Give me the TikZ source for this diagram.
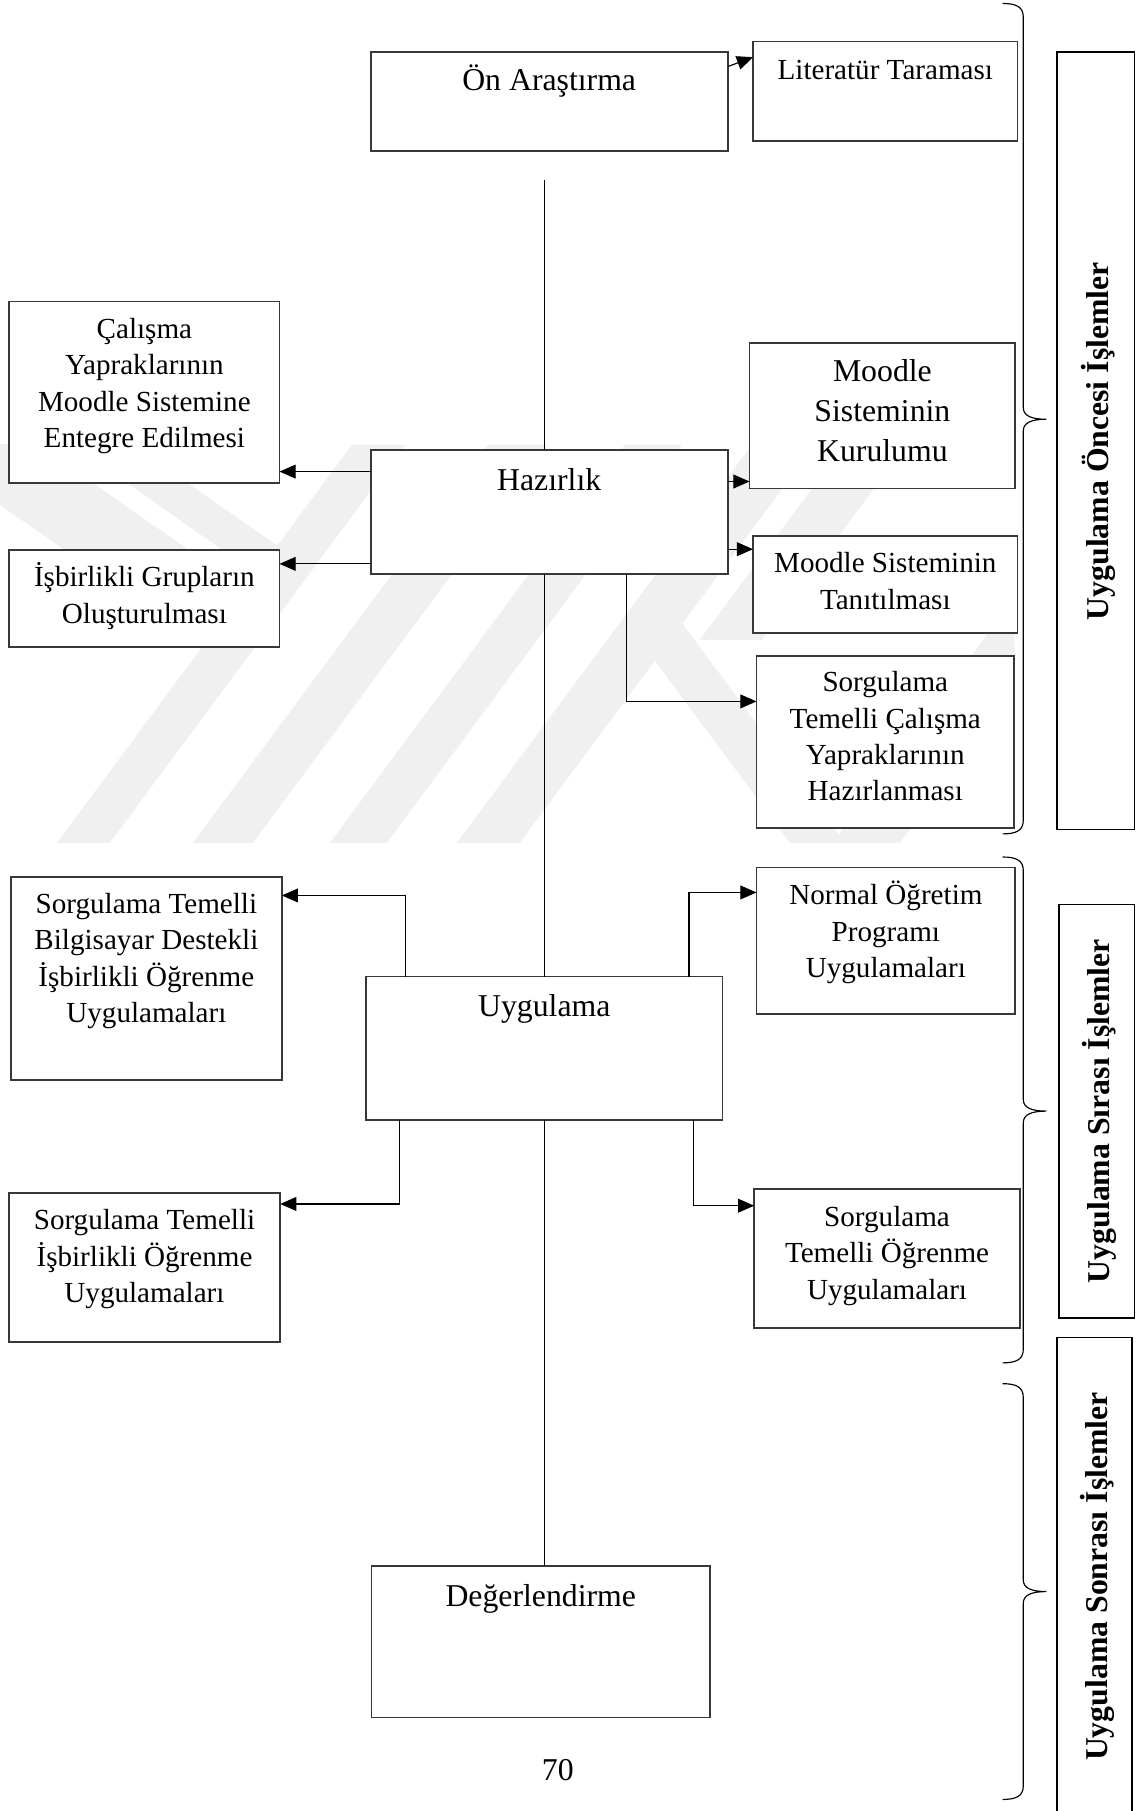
\documentclass[tikz,border=0pt]{standalone}
\usepackage{fontspec}
\setmainfont{Liberation Serif}
\usetikzlibrary{arrows.meta,calc}

% fixed ascent for the first text line of a box
\newcommand{\firstln}{\rule{0pt}{0.9em}}

% right-facing curly brace: top end, tip, bottom end
\newcommand{\phasebrace}[3]{%
  \draw[brace] (868,#1) .. controls (880,#1) and (886,#1+3) .. (886,#1+12)
    -- (886,#2-10) .. controls (886,#2-3) and (893,#2) .. (906,#2)
    .. controls (893,#2) and (886,#2+3) .. (886,#2+10)
    -- (886,#3-12) .. controls (886,#3-3) and (880,#3) .. (868,#3);}

\begin{document}
\begin{tikzpicture}[x=1pt,y=-1pt,
  box/.style={draw=black!78, line width=1.5pt, fill=white, inner sep=0pt, outer sep=0pt, anchor=north west},
  phasebox/.style={draw=black, line width=1.2pt, fill=white, inner sep=0pt, outer sep=0pt, anchor=north west},
  tx/.style={inner sep=0pt, align=center, anchor=north},
  small/.style={tx, font=\fontsize{25.2}{31.5}\selectfont},
  large/.style={tx, font=\fontsize{27.5}{34.6}\selectfont},
  phase/.style={font=\fontsize{27.5}{33}\selectfont\bfseries, rotate=90, anchor=base, inner sep=0pt},
  link/.style={line width=1pt, draw=black},
  arr/.style={link, -{Triangle[length=14pt, width=12pt]}},
  brace/.style={line width=1pt, draw=black},
  wm/.style={fill=black!6, draw=none}]

\useasboundingbox (0,0) rectangle (985,1568);
\clip (0,0) rectangle (985,1568);

% faint background emblem (diagonal bands)
\begin{scope}[scale=0.86558]
  \clip (0,445) rectangle (1015,843);
  \fill[wm] (57,843) -- (110,843) -- (405,445) -- (352,445) -- cycle;
  \fill[wm] (193,843) -- (253,843) -- (548,445) -- (488,445) -- cycle;
  \fill[wm] (330,843) -- (387,843) -- (682,445) -- (625,445) -- cycle;
  \fill[wm] (457,843) -- (520,843) -- (815,445) -- (752,445) -- cycle;
  \fill[wm] (-60,376) -- (280,614) -- (237,671) -- (-60,463) -- cycle;
  \fill[wm] (-60,310) -- (312,570) -- (291,598) -- (-60,352) -- cycle;
  \fill[wm] (790,843) -- (845,843) -- (682.5,623.7) -- (655,660.8) -- cycle;
  \fill[wm] (700,640) -- (762,640) -- (906.5,445) -- (844.5,445) -- cycle;
  \fill[wm] (833,843) -- (900,843) -- (1100,573) -- (1033,573) -- cycle;
\end{scope}

% boxes
\node[box, minimum width=309pt, minimum height=86pt]    (on)  at (321,45) {};
\node[box, minimum width=229pt, minimum height=86pt]    (lit) at (652,36) {};
\node[box, minimum width=234pt, minimum height=157pt]   (cal) at (8,261) {};
\node[box, minimum width=230pt, minimum height=126pt]   (kur) at (649,297) {};
\node[box, minimum width=309pt, minimum height=107.5pt] (hz)  at (321,389.5) {};
\node[box, minimum width=234pt, minimum height=84pt]    (isb) at (8,476) {};
\node[box, minimum width=229pt, minimum height=84pt]    (tan) at (652,464) {};
\node[box, minimum width=223pt, minimum height=149pt]   (sor) at (655,568) {};
\node[box, minimum width=234.5pt, minimum height=175.5pt] (bil) at (9.5,759.5) {};
\node[box, minimum width=224pt, minimum height=127pt]   (nor) at (655,751) {};
\node[box, minimum width=308.5pt, minimum height=124.5pt] (uyg) at (317,845.5) {};
\node[box, minimum width=235pt, minimum height=129pt]   (sti) at (7.6,1033) {};
\node[box, minimum width=230pt, minimum height=120.5pt] (sto) at (653,1029.5) {};
\node[box, minimum width=293pt, minimum height=131pt]   (deg) at (321.7,1356) {};

% phase boxes
\node[phasebox, minimum width=67pt, minimum height=673pt] (lb1) at (915,45) {};
\node[phasebox, minimum width=65pt, minimum height=358pt] (lb2) at (917,783) {};
\node[phasebox, minimum width=65pt, minimum height=440pt] (lb3) at (915,1158) {};

% braces
\phasebrace{3}{363}{722}
\phasebrace{742}{962}{1180}
\phasebrace{1198}{1378}{1558}

% main spine
\coordinate (vtop) at (471.5,156);
\draw[link] (vtop) -- (vtop |- hz.north);
\draw[link] (vtop |- hz.south) -- (vtop |- uyg.north);
\draw[link] (vtop |- uyg.south) -- (vtop |- deg.north);

% branches
\draw[arr] ([yshift=-12.7pt]on.north east) -- ([yshift=-13.5pt]lit.north west);

\coordinate (h1) at ([yshift=-18.8pt]hz.north west);
\draw[arr] (h1) -- (h1 -| cal.east);
\coordinate (h2) at ([yshift=-98.7pt]hz.north west);
\draw[arr] (h2) -- (h2 -| isb.east);
\coordinate (h3) at ([yshift=-27.4pt]hz.north east);
\draw[arr] (h3) -- (h3 -| kur.west);
\coordinate (h4) at ([yshift=-86pt]hz.north east);
\draw[arr] (h4) -- (h4 -| tan.west);
\coordinate (h5) at ([xshift=221.4pt]hz.south west);
\coordinate (s5) at ([yshift=-39.3pt]sor.north west);
\draw[arr] (h5) |- (s5);

\coordinate (u1) at ([xshift=33.9pt]uyg.north west);
\coordinate (e1) at ([yshift=-15.8pt]bil.north east);
\draw[arr] (u1) |- (e1);
\coordinate (u2) at ([xshift=279.6pt]uyg.north west);
\coordinate (e2) at ([yshift=-21.7pt]nor.north west);
\draw[arr] (u2) |- (e2);
\coordinate (u3) at ([xshift=28.9pt]uyg.south west);
\coordinate (e3) at ([yshift=-9.4pt]sti.north east);
\draw[arr] (u3) |- (e3);
\coordinate (u4) at ([xshift=283.4pt]uyg.south west);
\coordinate (e4) at ([yshift=-14.4pt]sto.north west);
\draw[arr] (u4) |- (e4);

% texts
\node[large] (t-on)  at (475.5, 78.5-24.75) {\firstln Ön Araştırma};
\node[small] (t-lit) at (766.5, 68.4-22.68) {\firstln Literatür Taraması};
\node[small] (t-cal) at (125, 292.8-22.68) {\firstln Çalışma\\Yapraklarının\\Moodle Sistemine\\Entegre Edilmesi};
\node[large] (t-kur) at (764, 330.4-24.75) {\firstln Moodle\\Sisteminin\\Kurulumu};
\node[large] (t-hz)  at (475.5, 424.7-24.75) {\firstln Hazırlık};
\node[small] (t-isb) at (125, 507.8-22.68) {\firstln İşbirlikli Grupların\\Oluşturulması};
\node[small] (t-tan) at (766.5, 495.7-22.68) {\firstln Moodle Sisteminin\\Tanıtılması};
\node[small] (t-sor) at (766.5, 598.7-22.68) {\firstln Sorgulama\\Temelli Çalışma\\Yapraklarının\\Hazırlanması};
\node[small] (t-bil) at (126.75, 790.6-22.68) {\firstln Sorgulama Temelli\\Bilgisayar Destekli\\İşbirlikli Öğrenme\\Uygulamaları};
\node[small] (t-nor) at (767, 783.3-22.68) {\firstln Normal Öğretim\\Programı\\Uygulamaları};
\node[large] (t-uyg) at (471.25, 880-24.75) {\firstln Uygulama};
\node[small] (t-sti) at (125.1, 1064.7-22.68) {\firstln Sorgulama Temelli\\İşbirlikli Öğrenme\\Uygulamaları};
\node[small] (t-sto) at (768, 1061.8-22.68) {\firstln Sorgulama\\Temelli Öğrenme\\Uygulamaları};
\node[large] (t-deg) at (468.2, 1390.7-24.75) {\firstln Değerlendirme};

\node[phase] (p1) at (960,382) {Uygulama Öncesi İşlemler};
\node[phase] (p2) at (961,962) {Uygulama Sırası İşlemler};
\node[phase] (p3) at (959,1365) {Uygulama Sonrası İşlemler};

\node[font=\fontsize{27.5}{33}\selectfont, anchor=base, inner sep=0pt] (pg) at (483,1542) {70};
\end{tikzpicture}
\end{document}
